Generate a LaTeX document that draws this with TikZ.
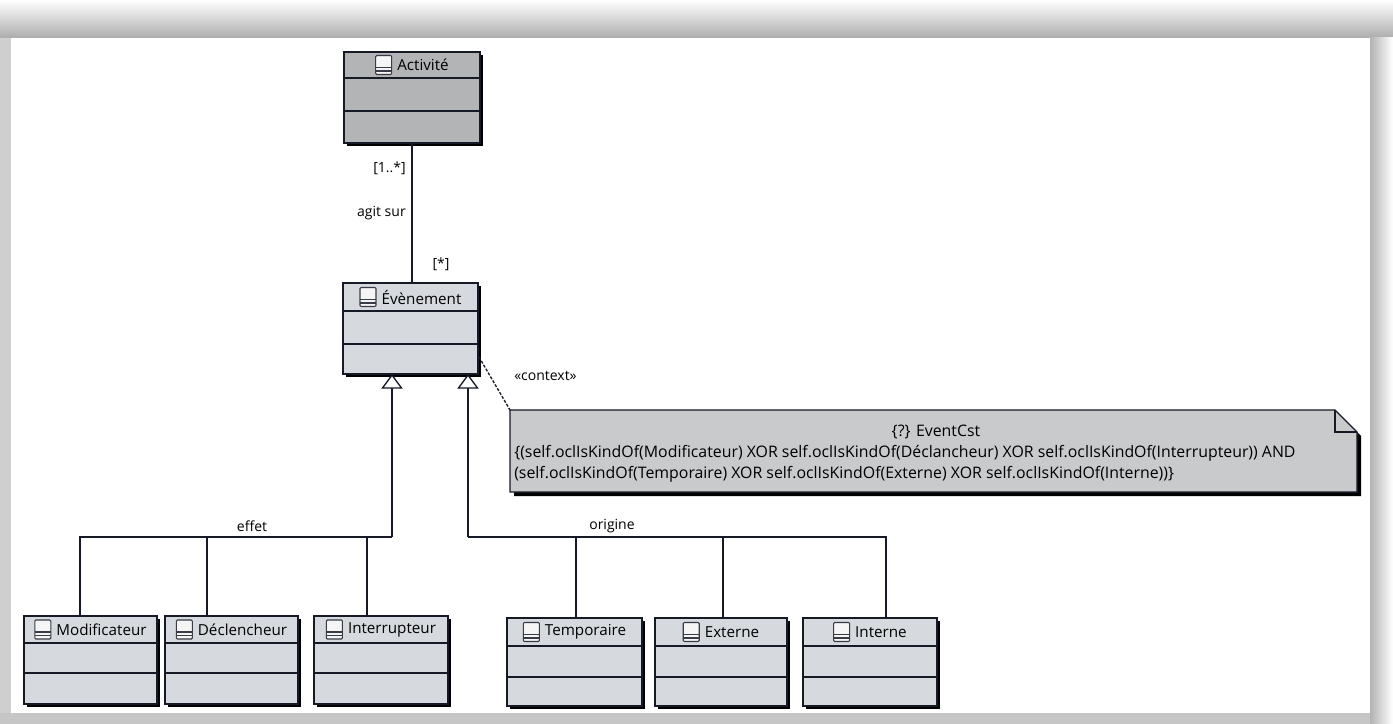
\documentclass[tikz,border=0pt]{standalone}
\usepackage{fontspec}
\setmainfont{Open Sans}
\usetikzlibrary{arrows.meta,fit,calc}
\definecolor{classfill}{RGB}{214,218,222}
\definecolor{actfill}{RGB}{178,180,182}
\definecolor{notefill}{RGB}{200,202,204}
\definecolor{ink}{RGB}{22,26,38}

% class icon drawn just left of a title node
\newcommand\classicon[1]{%
  \draw[iconbox] ($(#1.west)+(-20,-9.5)$) rectangle ($(#1.west)+(-4,9.5)$);
  \draw[iconline] ($(#1.west)+(-20,2.5)$) -- ($(#1.west)+(-4,2.5)$);
  \draw[iconline] ($(#1.west)+(-20,6)$) -- ($(#1.west)+(-4,6)$);
}

% #1 name, #2 left, #3 top, #4 right, #5 bottom, #6 first rule, #7 second rule, #8 title, #9 fill
\newcommand\umlclass[9]{%
  \fill[black] (#2+3,#3+3) rectangle (#4+3,#5+3);
  \node[classbox, fill=#9, fit={(#2,#3)(#4,#5)}] (#1) {};
  \draw[rule] (#2,#6) -- (#4,#6);
  \draw[rule] (#2,#7) -- (#4,#7);
  \node[title] (#1-t) at ({(#2+#4)/2+11},{(#3+#6)/2}) {#8};
  \classicon{#1-t}
}

\begin{document}
\begin{tikzpicture}[x=0.75pt,y=-0.75pt,
  font=\fontsize{10.5}{12}\selectfont,
  classbox/.style={draw=ink, line width=1.1pt, inner sep=0pt, outer sep=0pt},
  rule/.style={draw=ink, line width=1pt},
  title/.style={inner sep=1pt, font=\fontsize{11.4}{13}\selectfont},
  conn/.style={draw=ink, line width=1pt},
  gen/.style={conn, -{Triangle[length=11pt, width=16pt, fill=white, line width=1pt]}},
  ctx/.style={draw=ink, line width=1pt, dash pattern=on 2.2pt off 1.2pt},
  lbl/.style={inner sep=0pt, text=black},
  notetxt/.style={lbl, font=\fontsize{11.9}{14}\selectfont},
  iconbox/.style={draw=ink!85, line width=0.8pt, fill=gray!8, rounded corners=0.8pt},
  iconline/.style={draw=ink!85, line width=0.8pt}]
\useasboundingbox (0,0) rectangle (1393,724);

% window frame
\fill[gray!38] (0,0) rectangle (1393,724);
\shade[top color=white, bottom color=gray!65] (0,0) rectangle (1393,38);
\shade[left color=gray!60, right color=white] (1370,38) rectangle (1393,724);
\fill[gray!45] (0,713) rectangle (1370,724);
\fill[white] (11,38) rectangle (1370,713);

% classes
\umlclass{act}{344}{52}{480}{143}{78}{111}{Activité}{actfill}
\umlclass{evt}{343}{283}{478}{374}{311}{344}{Évènement}{classfill}
\umlclass{mod}{24}{616}{157}{704}{643}{673}{Modificateur}{classfill}
\umlclass{dec}{165}{616}{298}{704}{643}{673}{Déclencheur}{classfill}
\umlclass{itr}{314}{616}{448}{704}{643}{673}{Interrupteur}{classfill}
\umlclass{tmp}{507}{618}{642}{706}{646}{677}{Temporaire}{classfill}
\umlclass{ext}{655}{618}{787}{706}{646}{677}{Externe}{classfill}
\umlclass{int}{803}{618}{937}{706}{646}{677}{Interne}{classfill}

% association
\draw[conn] (act.south) -- (act.south |- evt.north);
\node[lbl, anchor=east] (m1) at (406,168) {[1..*]};
\node[lbl, anchor=east] (as) at (406,213) {agit sur};
\node[lbl] (m2) at (441,264) {[*]};

% generalisation sets
\coordinate (eL) at (392,537);
\coordinate (oR) at (468,537);
\coordinate (j1) at (80,537);
\coordinate (j2) at (207,537);
\coordinate (j3) at (367,537);
\coordinate (k1) at (576,537);
\coordinate (k2) at (723,537);
\coordinate (k3) at (886,537);
\draw[conn] (j1 |- mod.north) -- (j1) -- (eL);
\draw[conn] (j2) -- (j2 |- dec.north);
\draw[conn] (j3) -- (j3 |- itr.north);
\draw[gen] (eL) -- (eL |- evt.south);
\draw[conn] (oR) -- (k3) -- (k3 |- int.north);
\draw[conn] (k1) -- (k1 |- tmp.north);
\draw[conn] (k2) -- (k2 |- ext.north);
\draw[gen] (oR) -- (oR |- evt.south);
\node[lbl] (effet) at (252,526) {effet};
\node[lbl] (origine) at (612,526) {origine};

% constraint note with folded corner
\node[inner sep=0pt, outer sep=0pt, fit={(510,410)(1357,492)}] (note) {};
\fill[black] ([shift={(4,4)}]note.north west) -- ([shift={(-18,4)}]note.north east)
  -- ([shift={(4,26)}]note.north east)
  -- ([shift={(4,4)}]note.south east) -- ([shift={(4,4)}]note.south west) -- cycle;
\draw[ink, line width=1pt, fill=notefill] (note.north west) -- ([xshift=-16.5pt]note.north east)
  -- ([yshift=-16.5pt]note.north east) -- (note.south east) -- (note.south west) -- cycle;
\draw[ink, line width=0.8pt] ([xshift=-16.5pt]note.north east)
  -- ([xshift=-16.5pt,yshift=-16.5pt]note.north east) -- ([yshift=-16.5pt]note.north east);
\node[notetxt] (n1) at (936,432) {\{?\} EventCst};
\node[notetxt, anchor=west] (n2) at (514,453)
  {\{(self.oclIsKindOf(Modificateur) XOR self.oclIsKindOf(Déclancheur) XOR self.oclIsKindOf(Interrupteur)) AND};
\node[notetxt, anchor=west] (n3) at (514,474)
  {(self.oclIsKindOf(Temporaire) XOR self.oclIsKindOf(Externe) XOR self.oclIsKindOf(Interne))\}};

% context link
\coordinate (cs) at (479,357);
\draw[ctx] (cs) -- (note.north west);
\node[lbl, anchor=west] (ctxl) at (514,376) {«context»};
\end{tikzpicture}
\end{document}
